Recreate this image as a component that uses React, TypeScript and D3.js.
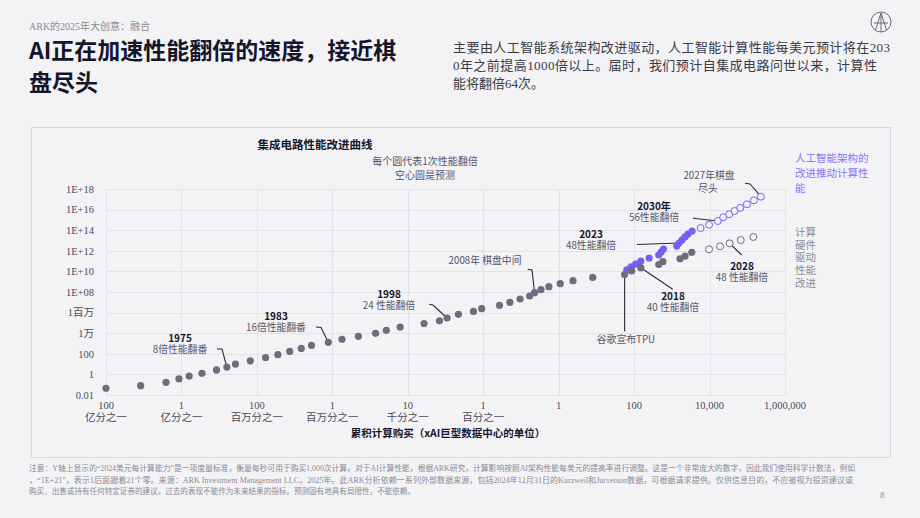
import React from "react";
import * as d3 from "d3";

// ---------- data ----------
const xTickValues = [1e-12, 1e-10, 1e-8, 1e-6, 1e-4, 1e-2, 1, 1e2, 1e4, 1e6];
const xTickNumbers = ["100", "1", "100", "1", "10", "1", "1", "100", "10,000", "1,000,000"];
const xTickUnits = ["亿分之一", "亿分之一", "百万分之一", "百万分之一", "千分之一", "百分之一", "", "", "", ""];
const yTickValues = [1e-2, 1, 1e2, 1e4, 1e6, 1e8, 1e10, 1e12, 1e14, 1e16, 1e18];
const yTickLabels = ["0.01", "1", "100", "1万", "1百万", "1E+08", "1E+10", "1E+12", "1E+14", "1E+16", "1E+18"];

// hardware-driven history (solid grey)
const hwCost = [1.0e-12, 8.3e-12, 3.9e-11, 8.6e-11, 1.6e-10, 3.5e-10, 8.5e-10, 1.6e-9, 2.7e-9, 6.7e-9, 1.7e-8, 3.6e-8, 7.4e-8, 1.5e-7, 2.8e-7, 7.8e-7, 1.8e-6, 4.9e-6, 1.4e-5, 2.7e-5, 6.3e-5, 2.7e-4, 6.9e-4, 1.1e-3, 2.2e-3, 5.5e-3, 9.1e-3, 2.7e-2, 5.1e-2, 9.5e-2, 0.17, 0.23, 0.34, 0.55, 1.1, 2.4, 8.0, 56, 86, 150, 450, 580, 1650, 2240, 3370];
const hwPerf = [0.045, 0.08, 0.17, 0.36, 0.7, 1.3, 2.7, 5.2, 10, 21, 42, 82, 170, 330, 670, 1300, 2600, 5000, 9800, 1.9e4, 4.0e4, 8.7e4, 1.6e5, 3.0e5, 6.8e5, 1.3e6, 2.4e6, 5.1e6, 1.0e7, 2.1e7, 4.1e7, 8.6e7, 1.7e8, 3.3e8, 6.4e8, 1.25e9, 2.6e9, 5.0e9, 1.1e10, 2.3e10, 4.7e10, 8.7e10, 1.7e11, 3.1e11, 7.1e11];
// hardware-driven forecast (hollow grey)
const hwFcCost = [9700, 1.9e4, 3.4e4, 6.7e4, 1.45e5];
const hwFcPerf = [1.4e12, 2.7e12, 5.3e12, 1.1e13, 2.2e13];
// AI architecture driven (solid purple)
const aiCost = [64, 83, 110, 150, 250, 450, 520, 600, 1350, 1550, 1860, 2240, 2690, 3440];
const aiPerf = [1.4e10, 2.7e10, 5.2e10, 1.0e11, 2.0e11, 3.9e11, 7.6e11, 1.5e12, 2.9e12, 5.7e12, 1.1e13, 2.2e13, 4.3e13, 8.4e13];
// AI architecture forecast (hollow purple)
const aiFcCost = [5800, 9700, 1.65e4, 2.3e4, 3.3e4, 4.6e4, 6.5e4, 9.8e4, 1.5e5, 2.3e5];
const aiFcPerf = [1.6e14, 3.4e14, 7.8e14, 1.8e15, 3.5e15, 7.3e15, 1.5e16, 3.3e16, 8.0e16, 1.8e17];

const footerLines = [
  "注意：Y轴上显示的“2024美元每计算能力”是一项度量标准，衡量每秒可用于购买1,000次计算。对于AI计算性能，根据ARK研究，计算影响按照AI架构性能每美元的提高率进行调整。这是一个非常庞大的数字，因此我们使用科学计数法，例如",
  "，“1E+21”，表示1后面跟着21个零。来源：ARK Investment Management LLC，2025年。此ARK分析依赖一系列外部数据来源，包括2024年12月31日的Kurzweil和Jurvetson数据，可根据请求提供。仅供信息目的，不应被视为投资建议或",
  "购买、出售或持有任何特定证券的建议。过去的表现不能作为未来结果的指标。预测固有地具有局限性，不能依赖。",
];
const introLines = [
  "主要由人工智能系统架构改进驱动，人工智能计算性能每美元预计将在203",
  "0年之前提高1000倍以上。届时，我们预计自集成电路问世以来，计算性",
  "能将翻倍64次。",
];

// ---------- styles ----------
const SERIF = '"Liberation Serif", "Noto Sans CJK SC", serif';
const SANS = '"Noto Sans CJK SC", "Noto Sans", sans-serif';
const BG = "#f3f3f6";
const GRID = "#e2e2e8";
const GREY_DOT = "#6d6d80";
const PURPLE = "#7c5cf6";
const DARK = "#15152b";
const TEXT_GREY = "#55556a";

const W = 920;
const H = 518;

type Pt = [number, number];

export default function App() {
  const x = d3.scaleLog().domain([1e-12, 1e6]).range([106, 785]);
  const y = d3.scaleLog().domain([1e-2, 1e18]).range([395, 189]);

  const pt = (cost: number[], perf: number[], i: number): Pt => [x(cost[i]), y(perf[i])];
  const line = d3.line<Pt>();

  const hwPt = (i: number) => pt(hwCost, hwPerf, i);
  const annotations: { title?: string; sub: string; sub2?: string; tx: number; ty: number; path: Pt[] }[] = [
    { title: "1975", sub: "8倍性能翻番", tx: 180, ty: 339, path: [[217, 349], [222, 349], hwPt(7)] },
    { title: "1983", sub: "16倍性能翻番", tx: 276, ty: 317, path: [[316, 327], [321, 327.5], hwPt(15)] },
    { title: "1998", sub: "24 性能翻倍", tx: 389, ty: 295, path: [[429, 304.3], [433, 305], hwPt(23)] },
    { sub: "2008年 棋盘中间", tx: 485, ty: 249.5, path: [[527.7, 269.3], [532, 270], hwPt(31)] },
    { sub: "谷歌宣布TPU", tx: 626, ty: 328.5, path: [hwPt(37), [hwPt(37)[0], 331.5]] },
    { title: "2018", sub: "40 性能翻倍", tx: 673, ty: 297, path: [hwPt(39), [672.7, 289.3]] },
    { title: "2023", sub: "48性能翻倍", tx: 591, ty: 234.5, path: [[637, 244.5], pt(aiCost, aiPerf, 9)] },
    { title: "2030年", sub: "56性能翻倍", tx: 654, ty: 207, path: [[693, 218.3], pt(aiFcCost, aiFcPerf, 2)] },
    { sub: "2027年棋盘", sub2: "尽头", tx: 709, ty: 164.5, path: [[745, 183.3], [750, 184], pt(aiFcCost, aiFcPerf, 9)] },
    { title: "2028", sub: "48 性能翻倍", tx: 742, ty: 267, path: [pt(hwFcCost, hwFcPerf, 2), [741.7, 255]] },
  ];

  const r = 3.6;

  return (
    <div style={{ position: "absolute", left: 0, top: 0 }}>
      <svg width={W} height={H} style={{ display: "block" }}>
        <rect x={0} y={0} width={W} height={H} fill={BG} />

        {/* header */}
        <text x={29} y={29.5} fontFamily={SERIF} fontSize={10} fill="#8a8a96">ARK的2025年大创意：融合</text>
        <text fontFamily={SANS} fontWeight={700} fontSize={23} fill={DARK}>
          <tspan x={29} y={59}>AI正在加速性能翻倍的速度，接近棋</tspan>
          <tspan x={29} y={91}>盘尽头</tspan>
        </text>
        {introLines.map((t, i) => (
          <text key={i} x={453} y={51.5 + i * 18} fontFamily={SERIF} fontSize={13} fill="#3a3a48"
            textLength={i === 0 ? 437 : i === 1 ? 424 : undefined} lengthAdjust="spacing">{t}</text>
        ))}
        {/* logo */}
        <g stroke="#6a6a78" strokeWidth={1} fill="none">
          <circle cx={881} cy={22} r={10} />
          <path d="M875.5,30 L881,13 L886.5,30 M874,23 L888,23 M881,13 L881,32" />
        </g>

        {/* chart frame */}
        <rect x={31.5} y={127.5} width={859} height={330} fill={BG} stroke="#d6d6dc" strokeWidth={1} />

        <text x={315} y={149} textAnchor="middle" fontFamily={SANS} fontWeight={700} fontSize={11.5} fill={DARK}>集成电路性能改进曲线</text>
        <text textAnchor="middle" fontFamily={SANS} fontSize={10} fill={TEXT_GREY}>
          <tspan x={425} y={165}>每个圆代表1次性能翻倍</tspan>
          <tspan x={425} y={179}>空心圆是预测</tspan>
        </text>

        {/* grid */}
        <g stroke={GRID} strokeWidth={1}>
          {yTickValues.map((v, i) => (
            <line key={"h" + i} x1={106} x2={785} y1={Math.round(y(v)) + 0.5} y2={Math.round(y(v)) + 0.5} />
          ))}
          {xTickValues.map((v, i) => (
            <line key={"v" + i} x1={Math.round(x(v)) + 0.5} x2={Math.round(x(v)) + 0.5} y1={189} y2={395} />
          ))}
        </g>

        {/* y tick labels */}
        {yTickValues.map((v, i) => (
          <text key={"yl" + i} x={94} y={y(v) + 3.8} textAnchor="end" fontFamily={SERIF} fontSize={10.5} fill="#4a4a5a">{yTickLabels[i]}</text>
        ))}
        {/* x tick labels */}
        {xTickValues.map((v, i) => (
          <text key={"xl" + i} textAnchor="middle" fontFamily={SERIF} fontSize={10.5} fill="#4a4a5a">
            <tspan x={x(v)} y={409}>{xTickNumbers[i]}</tspan>
            {xTickUnits[i] && <tspan x={x(v)} y={421}>{xTickUnits[i]}</tspan>}
          </text>
        ))}
        <text x={448} y={437} textAnchor="middle" fontFamily={SANS} fontWeight={700} fontSize={10.5} fill={DARK}>累积计算购买（xAI巨型数据中心的单位）</text>

        {/* annotation leaders */}
        <g fill="none" stroke="#2a2a3e" strokeWidth={1.1}>
          {annotations.map((a, i) => (
            <path key={"al" + i} d={line(a.path) || ""} />
          ))}
        </g>

        {/* dots */}
        {aiCost.map((c, i) => (
          <circle key={"ai" + i} cx={x(c)} cy={y(aiPerf[i])} r={r} fill={PURPLE} />
        ))}
        {hwCost.map((c, i) => (
          <circle key={"hw" + i} cx={x(c)} cy={y(hwPerf[i])} r={r} fill={GREY_DOT} />
        ))}
        {hwFcCost.map((c, i) => (
          <circle key={"hf" + i} cx={x(c)} cy={y(hwFcPerf[i])} r={3.5} fill={BG} stroke={GREY_DOT} strokeWidth={1} />
        ))}
        {aiFcCost.map((c, i) => (
          <circle key={"af" + i} cx={x(c)} cy={y(aiFcPerf[i])} r={3.5} fill={BG} stroke={PURPLE} strokeWidth={1} />
        ))}

        {/* annotation texts */}
        {annotations.map((a, i) => (
          <text key={"at" + i} textAnchor="middle" fontFamily={SANS} fontSize={9.8} fill={TEXT_GREY}>
            {a.title && (
              <tspan x={a.tx} y={a.ty + 3.2} fontWeight={700} fontSize={10} fill={DARK}>{a.title}</tspan>
            )}
            <tspan x={a.tx} y={a.ty + 14.3}>{a.sub}</tspan>
            {a.sub2 && <tspan x={a.tx - 1} y={a.ty + 27.5}>{a.sub2}</tspan>}
          </text>
        ))}

        {/* right legend */}
        <text fontFamily={SANS} fontSize={10.5} fill="#8a72f8">
          {["人工智能架构的", "改进推动计算性", "能"].map((t, i) => (
            <tspan key={"lp" + i} x={795} y={162 + i * 15}>{t}</tspan>
          ))}
        </text>
        <text fontFamily={SANS} fontSize={10.5} fill="#8a8a96">
          {["计算", "硬件", "驱动", "性能", "改进"].map((t, i) => (
            <tspan key={"lg" + i} x={795} y={236 + i * 12.7}>{t}</tspan>
          ))}
        </text>

        {/* footer */}
        {footerLines.map((t, i) => (
          <text key={"f" + i} x={29} y={471 + i * 11.5} fontFamily={SERIF} fontSize={7.5} fill="#8a8a96"
            textLength={i === 0 ? 826 : i === 1 ? 824 : 386} lengthAdjust="spacingAndGlyphs">{t}</text>
        ))}
        <text x={880} y={498} fontFamily={SERIF} fontSize={9} fill="#8a8a96">8</text>
      </svg>
    </div>
  );
}
